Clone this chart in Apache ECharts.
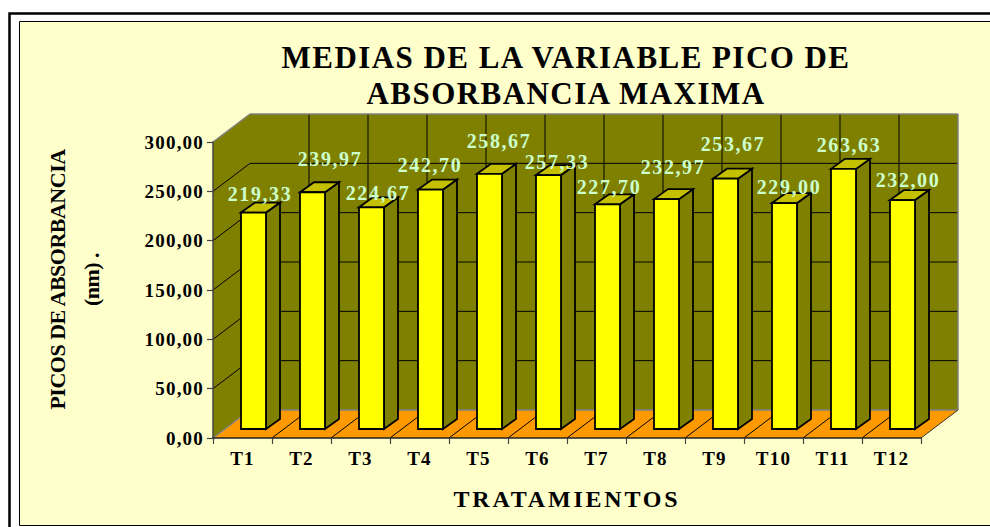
<!DOCTYPE html>
<html>
<head>
<meta charset="utf-8">
<style>
html,body{margin:0;padding:0;background:#fff;width:990px;height:527px;overflow:hidden}
#c{width:990px;height:527px}
text[style*="19px"]{letter-spacing:1.2px}
text[style*="20px"]{letter-spacing:1.6px}
text[style*="31px"]{letter-spacing:1.45px}
text[style*="24px"]{letter-spacing:2.8px}
text[style*="22px"]{letter-spacing:-.5px}
</style>
<script src="https://cdn.jsdelivr.net/npm/echarts@6/dist/echarts.min.js"></script>
</head>
<body>
<div id="c"></div>
<script>
const categories = ['T1','T2','T3','T4','T5','T6','T7','T8','T9','T10','T11','T12'];
const values = [219.33,239.97,224.67,242.70,258.67,257.33,227.70,232.97,253.67,229.00,263.63,232.00];
const yTicks = [0,50,100,150,200,250,300];
const titleText = 'MEDIAS DE LA VARIABLE PICO DE\nABSORBANCIA MAXIMA';
const yName = 'PICOS DE ABSORBANCIA\n(nm) .';
const xName = 'TRATAMIENTOS';

/* presentation only */
const fmt = v => v.toFixed(2).replace('.', ',');
const FONT = '"Liberation Serif","Times New Roman",serif';
const DX = 37, DY = -28;          // floor/wall depth
const BOFF = 11, BOFFY = -9;      // bar offset from the front plane
const BW = 25, SX = 14, SY = -10; // bar width, bar depth
const labelOffset = [[6.5,-9],[17.5,-23],[6.5,-4],[-0.5,-14.5],[9.5,-23],[8.5,-3],[1.5,-7],[6.5,-22],[7.5,-25],[4.5,-6],[5.5,-14],[5.5,-10]];

const poly = (pts, fill, stroke, lw) => ({type:'polygon', shape:{points:pts},
  style:{fill:fill||'none', stroke:stroke||'none', lineWidth:lw||0}});
const line = (a, b, stroke, lw) => ({type:'line', shape:{x1:a[0],y1:a[1],x2:b[0],y2:b[1]},
  style:{stroke:stroke||'#000', lineWidth:lw||1}});

function renderWalls(params, api){
  const n = categories.length;
  const cs = params.coordSys;
  const L = cs.x, R = cs.x + cs.width;
  const y0 = api.coord([0,0])[1], yT = api.coord([0,300])[1];
  const ch = [];
  ch.push(poly([[L+DX,yT+DY],[R+DX,yT+DY],[R+DX,y0+DY],[L+DX,y0+DY]],'#808000'));
  ch.push(poly([[L,yT],[L+DX,yT+DY],[L+DX,y0+DY],[L,y0]],'#808000'));
  ch.push(poly([[L,y0],[L+DX,y0+DY],[R+DX,y0+DY],[R,y0]],'#FF9900'));
  yTicks.forEach(t=>{
    if(t===0||t===300) return;
    const y = api.coord([0,t])[1];
    ch.push(line([L,y],[L+DX,y+DY]));
    ch.push(line([L+DX,y+DY],[R+DX,y+DY]));
  });
  for(let i=1;i<n;i++){
    const x = L + cs.width*i/n;
    ch.push(line([x+DX,yT+DY],[x+DX,y0+DY]));
    ch.push(line([x,y0],[x+DX,y0+DY]));
  }
  ch.push(line([L,yT],[L+DX,yT+DY],'#808080',1.5));
  ch.push(line([L+DX,yT+DY],[R+DX,yT+DY],'#808080',1.5));
  ch.push(line([R+DX,yT+DY],[R+DX,y0+DY],'#808080',1.5));
  ch.push(line([L+DX,y0+DY],[R+DX,y0+DY],'#808080',1.5));
  ch.push(line([L,y0],[L+DX,y0+DY],'#808080',1.5));
  ch.push(line([R,y0],[R+DX,y0+DY],'#333',1));
  return {type:'group', children:ch};
}
function renderBar(params, api){
  const p = api.coord([api.value(0), api.value(1)]);
  const b = api.coord([api.value(0), 0]);
  const x1 = p[0]+BOFF-BW/2, x2 = x1+BW, yt = p[1]+BOFFY, yb = b[1]+BOFFY;
  const st = '#000', lw = 1.8;
  return {type:'group', children:[
    poly([[x2,yt],[x2+SX,yt+SY],[x2+SX,yb+SY],[x2,yb]],'#808000',st,lw),
    poly([[x1,yt],[x1+SX,yt+SY],[x2+SX,yt+SY],[x2,yt]],'#C4C000',st,lw),
    poly([[x1,yt],[x2,yt],[x2,yb],[x1,yb]],'#FFFF00',st,lw)
  ]};
}
function renderLabel(params, api){
  const i = api.value(0), v = api.value(1);
  const p = api.coord([i,v]);
  const o = labelOffset[i];
  return {type:'text', x:p[0]+BOFF+o[0], y:p[1]+BOFFY+SY+o[1],
    style:{text:fmt(v), fill:'#CCFFCC', font:'bold 20px '+FONT, align:'center', verticalAlign:'middle'}};
}
const seriesData = values.map((v,i)=>[i,v]);

const chart = echarts.init(document.getElementById('c'), null, {renderer:'svg'});
chart.setOption({
  animation:false,
  backgroundColor:'#ffffff',
  graphic:[
    {type:'rect', silent:true, z:-10, shape:{x:9.5,y:13.5,width:1100,height:600}, style:{fill:'#fff',stroke:'#000',lineWidth:2.5}},
    {type:'rect', silent:true, z:-9, shape:{x:19.5,y:21.5,width:1100,height:504}, style:{fill:'#FFFFCC',stroke:'#000',lineWidth:1}}
  ],
  title:{text:titleText, left:561, top:34, textAlign:'center',
    textStyle:{fontFamily:FONT, fontWeight:'bold', fontSize:31, lineHeight:36, color:'#000'}},
  grid:{left:213, top:142, width:708, height:296, containLabel:false},
  xAxis:{type:'category', data:categories, z:6,
    name:xName, nameLocation:'middle', nameGap:49,
    nameTextStyle:{fontFamily:FONT, fontWeight:'bold', fontSize:24, color:'#000'},
    axisLine:{lineStyle:{color:'#222',width:1.5}},
    axisTick:{show:true, length:6, lineStyle:{color:'#444',width:1.2}},
    axisLabel:{fontFamily:FONT, fontWeight:'bold', fontSize:19, color:'#000', margin:11, interval:0}},
  yAxis:{type:'value', min:0, max:300, interval:50, z:6,
    name:yName, nameLocation:'middle', nameGap:105, nameRotate:90,
    nameTextStyle:{fontFamily:FONT, fontWeight:'bold', fontSize:22, lineHeight:34, color:'#000', padding:[0,0,0,21]},
    splitLine:{show:false},
    axisLine:{show:true, lineStyle:{color:'#444',width:1.5}},
    axisTick:{show:true, length:6, lineStyle:{color:'#444',width:1.2}},
    axisLabel:{fontFamily:FONT, fontWeight:'bold', fontSize:19, color:'#000', margin:9, formatter:fmt}},
  series:[
    {type:'custom', z:2, silent:true, renderItem:(p,a)=> p.dataIndex===0 ? renderWalls(p,a) : null, data:seriesData, encode:{x:0,y:1}},
    {type:'custom', z:3, silent:true, renderItem:renderBar, data:seriesData, encode:{x:0,y:1}},
    {type:'custom', z:4, silent:true, renderItem:renderLabel, data:seriesData, encode:{x:0,y:1}}
  ]
});
</script>
</body>
</html>
